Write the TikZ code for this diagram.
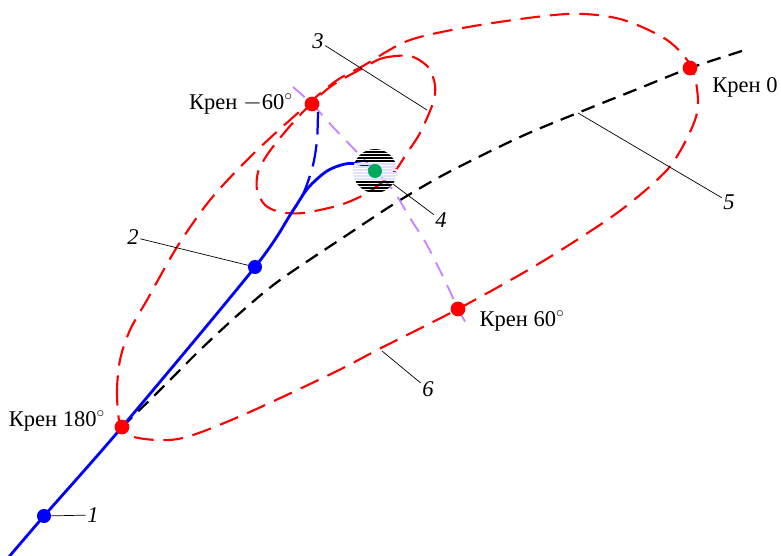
\documentclass[tikz,border=0pt]{standalone}
\usepackage{fontspec}
\setmainfont{Liberation Serif}
\usetikzlibrary{positioning}
\definecolor{rollviolet}{RGB}{200,130,255}
\definecolor{targetgreen}{RGB}{0,170,90}
\begin{document}
\begin{tikzpicture}[x=0.025cm,y=-0.025cm,
   redline/.style={red, line width=1.5pt, dash pattern=on 14pt off 7pt},
   blackline/.style={black, line width=1.6pt, dash pattern=on 10pt off 6pt},
   violetline/.style={rollviolet, line width=1.3pt, dash pattern=on 11pt off 7pt},
   blueline/.style={blue, line width=2pt},
   leader/.style={black, line width=0.5pt},
   dot/.style={circle, inner sep=0pt, minimum size=10.5pt},
   krentext/.style={font=\fontsize{16}{19}\selectfont, inner sep=1pt},
   numtext/.style={font=\fontsize{16}{19}\selectfont\itshape, inner sep=1pt}]
   \useasboundingbox (0,0) rectangle (781,555);

   % Characteristic points
   \coordinate (p1) at (44,516);
   \coordinate (p2) at (255,267);
   \coordinate (k180) at (122,427);
   \coordinate (km60) at (312,104);
   \coordinate (k0) at (690,68);
   \coordinate (k60) at (458,309);
   \coordinate (target) at (375,171);

   % Big roll ellipse (6)
   \draw[redline] plot[smooth cycle] coordinates {(122,430) (117,395) (120,360) (130,330)
      (147,300) (177,247) (210,200) (250,157) (290,120) (333,83) (363,66) (410,40) (480,25)
      (567,14) (620,19) (667,40) (692,68) (698,105) (690,132) (667,170) (617,213) (540,263)
      (458,309) (383,347) (333,373) (243,415) (183,438) (145,439)};

   % Small ellipse (3)
   \draw[redline] plot[smooth cycle] coordinates {(363,68) (383,58) (410,56) (428,67)
      (435,85) (433,103) (420,133) (407,153) (393,173) (367,193) (340,205) (303,213)
      (280,212) (265,205) (257,190) (258,172) (267,155) (280,138) (300,115) (330,87)};

   % Unperturbed path (5)
   \draw[blackline] plot[smooth] coordinates {(122,427) (160,390) (200,350) (240,313)
      (280,280) (350,233) (397,202) (447,173) (520,137) (580,112) (640,88) (690,68) (745,50)};

   % Line of roll points
   \draw[violetline] plot[smooth] coordinates {(293,87) (312,104) (333,127) (355,150)
      (375,171) (393,190) (410,218) (427,245) (447,285) (458,309) (470,330)};

   % Actual path
   \draw[blueline] plot[smooth] coordinates {(8,558) (44,516) (122,427) (255,267) (292,212)
      (308,188) (327,171) (345,164) (360,164) (373,169)};
   \draw[blueline, line width=1.6pt, dash pattern=on 16pt off 7pt] plot[smooth]
      coordinates {(318,112) (317,140) (313,165) (304,192) (292,212)};

   % Striped target
   \begin{scope}
      \clip (target) circle (22);
      \foreach \yy in {149,152,...,161} {
         \draw[line width=1.3pt] (350,\yy) -- (400,\yy);
      }
      \foreach \yy in {164,167,...,179} {
         \draw[line width=1.3pt, blue!12] (350,\yy) -- (400,\yy);
      }
      \foreach \yy in {182,185,...,194} {
         \draw[line width=1.3pt] (350,\yy) -- (400,\yy);
      }
   \end{scope}

   % Labels
   \node[krentext] (t180) at (57,421) {Крен 180$^{\circ}$};
   \node[krentext] (tm60) at (241,104) {Крен $-$60$^{\circ}$};
   \node[krentext] (t0) at (745,87) {Крен 0};
   \node[krentext] (t60) at (522,321) {Крен 60$^{\circ}$};

   \node[numtext] (n1) at (93,515) {1};
   \node[numtext] (n2) at (133,237) {2};
   \node[numtext] (n3) at (318,41) {3};
   \node[numtext] (n4) at (441,220) {4};
   \node[numtext] (n5) at (729,202) {5};
   \node[numtext] (n6) at (428,389) {6};

   % Leaders
   \coordinate (c3) at (427,110);
   \coordinate (c4) at (393,184);
   \coordinate (c5) at (578,113);
   \coordinate (c6) at (382,351);
   \draw[leader] (p1) -- (n1);
   \draw[leader] (p2) -- (n2);
   \draw[leader] (c3) -- (n3);
   \draw[leader] (c4) -- (n4);
   \draw[leader] (c5) -- (n5);
   \draw[leader] (c6) -- (n6);

   % Points
   \node[dot, fill=blue, minimum size=10pt] (d1) at (p1) {};
   \node[dot, fill=blue, minimum size=10pt] (d2) at (p2) {};
   \node[dot, fill=red] (d180) at (k180) {};
   \node[dot, fill=red] (dm60) at (km60) {};
   \node[dot, fill=red] (d0) at (k0) {};
   \node[dot, fill=red] (d60) at (k60) {};
   \node[dot, fill=targetgreen, minimum size=10pt] (dt) at (target) {};
\end{tikzpicture}
\end{document}
